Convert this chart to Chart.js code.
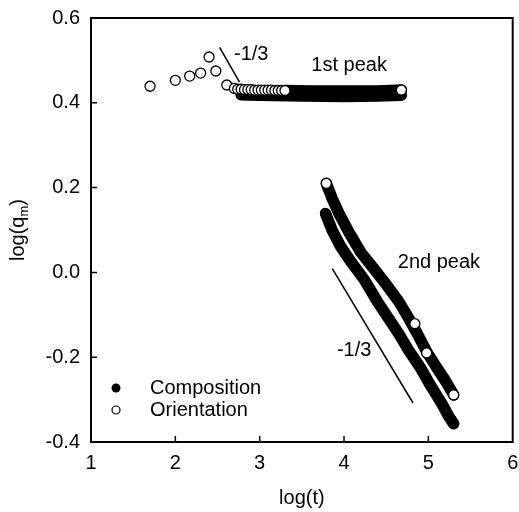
<!DOCTYPE html>
<html>
<head>
<meta charset="utf-8">
<title>log(qm) vs log(t)</title>
<script src="https://cdn.jsdelivr.net/npm/chart.js@4.4.1/dist/chart.umd.min.js"></script>
<style>
    html, body { margin: 0; padding: 0; background: #fff; }
    #wrap { width: 519px; height: 512px; }
</style>
</head>
<body>
<div id="wrap"><canvas id="qmChart" width="519" height="512"></canvas></div>
<script>
// x = log(t), y = log(q_m)
const xTicks = [1, 2, 3, 4, 5, 6];
const yTicks = [-0.4, -0.2, 0.0, 0.2, 0.4, 0.6];

// 1st peak, orientation: separate open circles at early times
const orient1X = [1.70, 2.00, 2.17, 2.30, 2.40, 2.48, 2.61, 2.70, 2.74, 2.78, 2.82, 2.86, 2.90, 2.94, 2.98, 3.02, 3.06, 3.10, 3.14, 3.18, 3.22, 3.26, 3.30];
const orient1Y = [0.439, 0.453, 0.463, 0.470, 0.508, 0.475, 0.442, 0.434, 0.432, 0.432, 0.431, 0.431, 0.431, 0.430, 0.430, 0.430, 0.430, 0.430, 0.430, 0.429, 0.429, 0.429, 0.429];
// 1st peak, dense part where the circles merge into a band
const orient1BandX = [3.30, 3.60, 4.00, 4.40, 4.68];
const orient1BandY = [0.429, 0.428, 0.428, 0.428, 0.430];
const comp1BandX = [2.78, 3.00, 3.50, 4.00, 4.40, 4.68];
const comp1BandY = [0.419, 0.418, 0.416, 0.415, 0.416, 0.418];

// 2nd peak, both series merge into bands
const orient2X = [3.79, 3.86, 3.94, 4.06, 4.20, 4.36, 4.51, 4.65, 4.77, 4.87, 4.98, 5.10, 5.21, 5.30];
const orient2Y = [0.210, 0.174, 0.139, 0.094, 0.047, 0.007, -0.031, -0.069, -0.109, -0.145, -0.187, -0.225, -0.258, -0.289];
const comp2X = [3.78, 3.86, 3.96, 4.09, 4.24, 4.39, 4.53, 4.65, 4.77, 4.90, 5.03, 5.16, 5.24, 5.30];
const comp2Y = [0.139, 0.099, 0.061, 0.023, -0.017, -0.067, -0.109, -0.145, -0.185, -0.223, -0.268, -0.310, -0.339, -0.357];

// open circles still visible inside / at the ends of the orientation bands
const orientEndX = [4.68, 3.79, 4.84, 4.98, 5.30];
const orientEndY = [0.430, 0.210, -0.121, -0.190, -0.289];

// -1/3 slope guides
const guide1X = [2.525, 2.761];
const guide1Y = [0.531, 0.449];
const guide2X = [3.861, 4.818];
const guide2Y = [0.009, -0.308];

const notes = [
    { text: "1st peak", x: 4.06, y: 0.489 },
    { text: "2nd peak", x: 5.125, y: 0.023 },
    { text: "-1/3", x: 2.90, y: 0.514 },
    { text: "-1/3", x: 4.12, y: -0.185 }
];

const FAMILY = "'Liberation Sans', Arial, sans-serif";
const FONT = "20px " + FAMILY;

document.addEventListener("DOMContentLoaded", () => {
    createQmChart();
});

function toPoints(xs, ys) {
    return xs.map((x, i) => ({ x: x, y: ys[i] }));
}

function bandDataset(xs, ys) {
    return {
        data: toPoints(xs, ys),
        showLine: true,
        borderColor: "#000",
        borderWidth: 11.5,
        borderCapStyle: "round",
        borderJoinStyle: "round",
        pointRadius: 0,
        order: 1
    };
}

function guideDataset(xs, ys) {
    return {
        data: toPoints(xs, ys),
        showLine: true,
        borderColor: "#000",
        borderWidth: 1.5,
        pointRadius: 0,
        order: 2
    };
}

function circleDataset(xs, ys) {
    return {
        data: toPoints(xs, ys),
        showLine: false,
        pointStyle: "circle",
        pointRadius: 5,
        backgroundColor: "#fff",
        borderColor: "#000",
        pointBorderWidth: 1.3,
        order: 0
    };
}

const figurePlugin = {
    id: "figure",
    afterDraw(chart) {
        const ctx = chart.ctx;
        const area = chart.chartArea;
        const xs = chart.scales.x;
        const ys = chart.scales.y;
        ctx.save();

        // frame
        ctx.strokeStyle = "#000";
        ctx.lineWidth = 2;
        ctx.strokeRect(area.left, area.top, area.right - area.left, area.bottom - area.top);

        // inward tick marks
        ctx.lineWidth = 1.5;
        ctx.beginPath();
        xTicks.slice(1, -1).forEach(v => {
            const px = xs.getPixelForValue(v);
            ctx.moveTo(px, area.bottom);
            ctx.lineTo(px, area.bottom - 6);
        });
        yTicks.slice(1, -1).forEach(v => {
            const py = ys.getPixelForValue(v);
            ctx.moveTo(area.left, py);
            ctx.lineTo(area.left + 6, py);
        });
        ctx.stroke();

        // notes
        ctx.fillStyle = "#000";
        ctx.font = FONT;
        ctx.textAlign = "center";
        ctx.textBaseline = "middle";
        notes.forEach(n => {
            ctx.fillText(n.text, xs.getPixelForValue(n.x), ys.getPixelForValue(n.y));
        });

        // axis titles
        ctx.fillText("log(t)", (area.left + area.right) / 2, 498);

        ctx.save();
        ctx.translate(18, (area.top + area.bottom) / 2);
        ctx.rotate(-Math.PI / 2);
        const smallFont = "13px " + FAMILY;
        const a = "log(q", b = "m", c = ")";
        ctx.font = FONT;
        const wa = ctx.measureText(a).width;
        const wc = ctx.measureText(c).width;
        ctx.font = smallFont;
        const wb = ctx.measureText(b).width;
        let x0 = -(wa + wb + wc) / 2;
        ctx.textAlign = "left";
        ctx.font = FONT;
        ctx.fillText(a, x0, 0);
        ctx.font = smallFont;
        ctx.fillText(b, x0 + wa, 6);
        ctx.font = FONT;
        ctx.fillText(c, x0 + wa + wb, 0);
        ctx.restore();

        // legend
        ctx.textAlign = "left";
        ctx.font = FONT;
        ctx.beginPath();
        ctx.arc(116, 388, 4.5, 0, Math.PI * 2);
        ctx.fill();
        ctx.fillText("Composition", 150, 388);
        ctx.beginPath();
        ctx.arc(116, 410, 4, 0, Math.PI * 2);
        ctx.lineWidth = 1.2;
        ctx.stroke();
        ctx.fillText("Orientation", 150, 410);

        ctx.restore();
    }
};

function createQmChart() {
    const ctx = document.getElementById("qmChart").getContext("2d");
    new Chart(ctx, {
        type: "scatter",
        data: {
            datasets: [
                circleDataset(orient1X, orient1Y),
                circleDataset(orientEndX, orientEndY),
                bandDataset(orient1BandX, orient1BandY),
                bandDataset(comp1BandX, comp1BandY),
                bandDataset(orient2X, orient2Y),
                bandDataset(comp2X, comp2Y),
                guideDataset(guide1X, guide1Y),
                guideDataset(guide2X, guide2Y)
            ]
        },
        options: {
            responsive: false,
            animation: false,
            layout: { padding: { top: 18, right: 6, bottom: 0, left: 0 } },
            plugins: {
                legend: { display: false },
                tooltip: { enabled: false }
            },
            scales: {
                x: {
                    type: "linear",
                    min: 1,
                    max: 6,
                    afterFit: s => { s.height = 70; s.paddingLeft = 0; s.paddingRight = 0; },
                    afterBuildTicks: s => { s.ticks = xTicks.map(v => ({ value: v })); },
                    grid: { display: false, drawTicks: false },
                    border: { display: false },
                    ticks: {
                        padding: 9,
                        color: "#000",
                        font: { family: FAMILY, size: 20 },
                        maxRotation: 0,
                        callback: v => String(v)
                    }
                },
                y: {
                    type: "linear",
                    min: -0.4,
                    max: 0.6,
                    afterFit: s => { s.width = 91; s.paddingTop = 0; s.paddingBottom = 0; },
                    afterBuildTicks: s => { s.ticks = yTicks.map(v => ({ value: v })); },
                    grid: { display: false, drawTicks: false },
                    border: { display: false },
                    ticks: {
                        padding: 11,
                        color: "#000",
                        font: { family: FAMILY, size: 20 },
                        callback: v => Number(v).toFixed(1)
                    }
                }
            }
        },
        plugins: [figurePlugin]
    });
}
</script>
</body>
</html>
